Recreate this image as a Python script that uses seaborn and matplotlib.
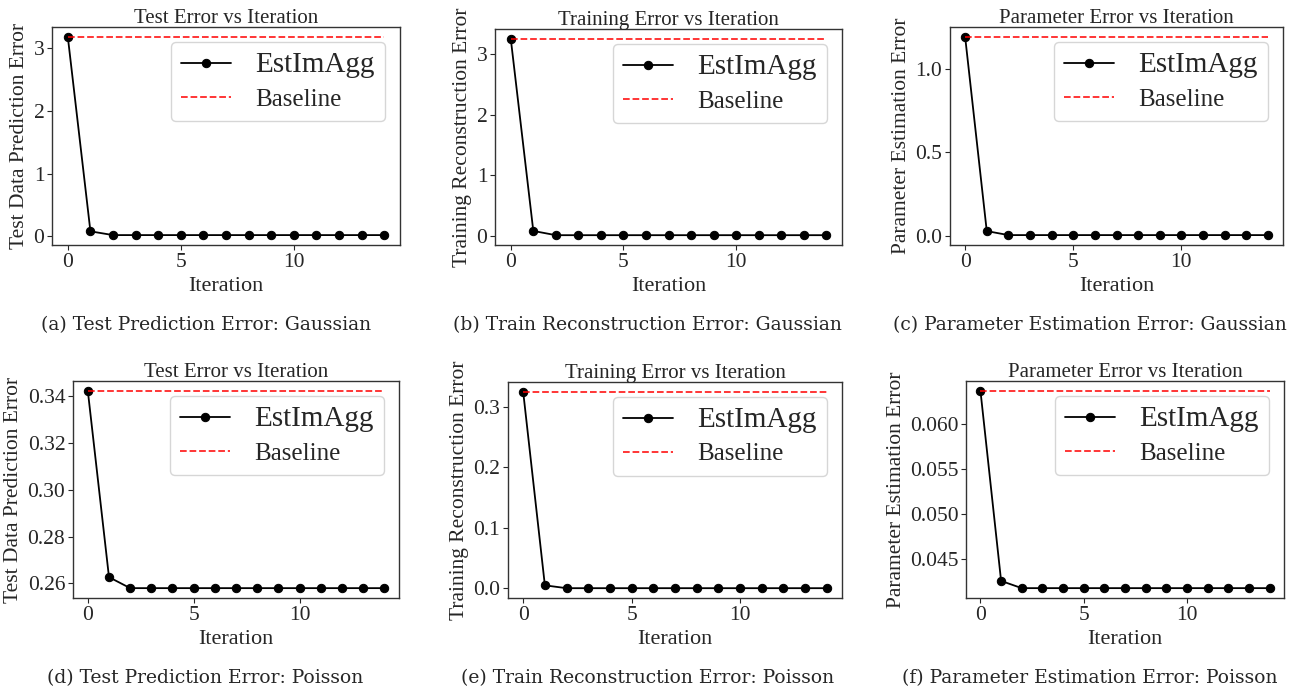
import seaborn as sns
import pandas as pd
import matplotlib.pyplot as plt

sns.set_style("white")
plt.rcParams['font.family'] = ['Liberation Serif', 'DejaVu Serif']

# data
iters = list(range(15))
test_gauss = [3.18, 0.08, 0.02, 0.02, 0.02, 0.02, 0.02, 0.02, 0.02, 0.02, 0.02, 0.02, 0.02, 0.02, 0.02]
train_gauss = [3.25, 0.08, 0.01, 0.01, 0.01, 0.01, 0.01, 0.01, 0.01, 0.01, 0.01, 0.01, 0.01, 0.01, 0.01]
param_gauss = [1.19, 0.03, 0.006, 0.006, 0.006, 0.006, 0.006, 0.006, 0.006, 0.006, 0.006, 0.006, 0.006, 0.006, 0.006]
test_pois = [0.3424, 0.2627, 0.258, 0.258, 0.258, 0.258, 0.258, 0.258, 0.258, 0.258, 0.258, 0.258, 0.258, 0.258, 0.258]
train_pois = [0.3246, 0.005, 0.0003, 0.0003, 0.0003, 0.0003, 0.0003, 0.0003, 0.0003, 0.0003, 0.0003, 0.0003, 0.0003, 0.0003, 0.0003]
param_pois = [0.0637, 0.0426, 0.0418, 0.0418, 0.0418, 0.0418, 0.0418, 0.0418, 0.0418, 0.0418, 0.0418, 0.0418, 0.0418, 0.0418, 0.0418]

baselines = [3.18, 3.25, 1.19, 0.3424, 0.3246, 0.0637]

titles = ["Test Error vs Iteration", "Training Error vs Iteration", "Parameter Error vs Iteration"] * 2
ylabels = ["Test Data Prediction Error", "Training Reconstruction Error", "Parameter Estimation Error"] * 2
captions = ["(a) Test Prediction Error: Gaussian", "(b) Train Reconstruction Error: Gaussian",
            "(c) Parameter Estimation Error: Gaussian", "(d) Test Prediction Error: Poisson",
            "(e) Train Reconstruction Error: Poisson", "(f) Parameter Estimation Error: Poisson"]
series = [test_gauss, train_gauss, param_gauss, test_pois, train_pois, param_pois]

W, H = 1310, 691
# axes boxes in pixels: left, top, right, bottom
boxes = [(52, 27, 400, 245), (495, 29, 842, 245), (950, 27, 1283, 245),
         (73, 381, 399, 598), (508, 382, 842, 598), (966, 381, 1284, 598)]
cap_pos = [(206, 325), (647, 325), (1090, 325), (205, 678), (648, 678), (1090, 678)]

fig = plt.figure(figsize=(W / 100, H / 100), dpi=100)

for i in range(6):
    l, t, r, b = boxes[i]
    ax = fig.add_axes([l / W, 1 - b / H, (r - l) / W, (b - t) / H])
    df = pd.DataFrame({'Iteration': iters, 'err': series[i], 'base': [baselines[i]] * len(iters)})
    sns.lineplot(data=df, x='Iteration', y='err', ax=ax, color='black', marker='o',
                 markersize=6, markeredgecolor='black', linewidth=1.3, label='EstImAgg')
    sns.lineplot(data=df, x='Iteration', y='base', ax=ax, color='red', alpha=0.85,
                 linestyle='--', linewidth=1.3, label='Baseline')
    ax.set_title(titles[i], fontsize=15, pad=3)
    ax.set_xlabel('Iteration', fontsize=16, labelpad=4)
    ax.set_ylabel(ylabels[i], fontsize=15.5, labelpad=3)
    ax.set_xticks([0, 5, 10])
    ax.tick_params(labelsize=15.5, length=3.5, left=True, bottom=True, pad=2)
    for s in ax.spines.values():
        s.set_color('#333333')
        s.set_linewidth(1.0)
    leg = ax.legend(loc='upper right', fontsize=18, framealpha=0.8, borderaxespad=0.6,
                    labelspacing=0.4, handletextpad=1.0)
    leg.get_texts()[0].set_fontsize(21)
    fig.text(cap_pos[i][0] / W, 1 - cap_pos[i][1] / H, captions[i], ha='center', va='center',
             fontsize=13.5, family='DejaVu Serif')

fig.savefig('out.png', dpi=100)
